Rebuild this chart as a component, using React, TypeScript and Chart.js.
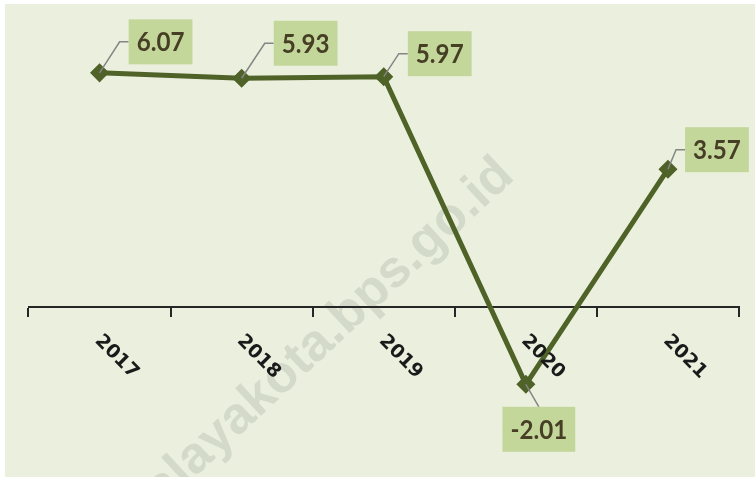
import React, { useEffect, useRef } from 'react';
import { Chart, registerables } from 'chart.js';

Chart.register(...registerables);

const categories = ['2017', '2018', '2019', '2020', '2021'];
const values = [6.07, 5.93, 5.97, -2.01, 3.57];
const valueLabels = ['6.07', '5.93', '5.97', '-2.01', '3.57'];
const yMin = -4;
const yMax = 7;
const watermark = 'tasikmalayakota.bps.go.id';

// label box centre offsets from each point (layout, not data)
const labelOffsets: number[][] = [
  [61, -31],
  [64, -35],
  [56, -23],
  [13, 45],
  [49, -19.5],
];

const decorPlugin = {
  id: 'decor',
  beforeDraw(chart: any) {
    const ctx = chart.ctx as CanvasRenderingContext2D;
    ctx.save();
    ctx.fillStyle = '#ffffff';
    ctx.fillRect(0, 0, chart.width, chart.height);
    ctx.fillStyle = '#EBF0DE';
    ctx.fillRect(5, 4, chart.width - 5, chart.height - 6);
    ctx.beginPath();
    ctx.rect(5, 4, chart.width - 5, chart.height - 6);
    ctx.clip();
    ctx.translate(516, 178);
    ctx.rotate((-43 * Math.PI) / 180);
    ctx.font = 'bold 52px "Liberation Sans", Arial, sans-serif';
    ctx.fillStyle = '#D3DAC9';
    ctx.textAlign = 'right';
    ctx.textBaseline = 'alphabetic';
    ctx.fillText(watermark, 0, 0);
    ctx.restore();
  },
  afterDatasetsDraw(chart: any) {
    const ctx = chart.ctx as CanvasRenderingContext2D;
    const xs = chart.scales.x;
    const ys = chart.scales.y;
    const zeroY = ys.getPixelForValue(0);
    ctx.save();
    // category labels, rotated 45deg clockwise
    ctx.font = 'bold 19px "DejaVu Sans", sans-serif';
    ctx.fillStyle = '#1a1a1a';
    ctx.textAlign = 'center';
    ctx.textBaseline = 'middle';
    categories.forEach((c, i) => {
      const x = xs.getPixelForValue(i);
      ctx.save();
      ctx.translate(x + 17, zeroY + 50);
      ctx.rotate(Math.PI / 4);
      ctx.fillText(c, 0, 0);
      ctx.restore();
    });
    // data labels with leader lines
    const meta = chart.getDatasetMeta(0);
    ctx.font = 'bold 26px Lato, "Open Sans", sans-serif';
    meta.data.forEach((pt: any, i: number) => {
      const txt = valueLabels[i];
      const px = pt.x;
      const py = pt.y;
      const tw = ctx.measureText(txt).width * 0.93;
      const bw = tw + 16;
      const bh = 45;
      const cx = px + labelOffsets[i][0];
      const cy = py + labelOffsets[i][1];
      const left = cx - bw / 2;
      const top = cy - bh / 2;
      ctx.strokeStyle = '#858585';
      ctx.lineWidth = 1.5;
      ctx.beginPath();
      ctx.moveTo(px, py);
      if (cy < py) {
        ctx.lineTo(left - 9, cy);
        ctx.lineTo(left, cy);
      } else {
        ctx.lineTo(cx, top);
      }
      ctx.stroke();
      ctx.fillStyle = '#C4D79B';
      ctx.fillRect(left, top, bw, bh);
      ctx.fillStyle = '#463F26';
      ctx.textAlign = 'center';
      ctx.textBaseline = 'middle';
      ctx.save();
      ctx.translate(cx, cy + 1);
      ctx.scale(0.93, 1);
      ctx.fillText(txt, 0, 0);
      ctx.restore();
    });
    ctx.restore();
  },
};

export default function App() {
  const canvasRef = useRef<HTMLCanvasElement | null>(null);

  useEffect(() => {
    if (!canvasRef.current) return;
    const chart = new Chart(canvasRef.current, {
      type: 'line',
      data: {
        labels: categories,
        datasets: [
          {
            data: values,
            borderColor: '#4F6228',
            backgroundColor: '#4F6228',
            borderWidth: 5,
            pointStyle: 'rectRot',
            pointRadius: 8.5,
            pointBorderWidth: 1.5,
            pointBackgroundColor: '#4F6228',
            pointBorderColor: '#4F6228',
            tension: 0,
            clip: false as any,
          },
        ],
      },
      options: {
        responsive: false,
        animation: false,
        layout: { padding: { left: 28.5, right: 16, top: 37, bottom: 18 } },
        plugins: { legend: { display: false }, tooltip: { enabled: false } },
        scales: {
          x: {
            type: 'category',
            offset: true,
            position: { y: 0 } as any,
            grid: {
              offset: true,
              drawOnChartArea: false,
              drawTicks: true,
              tickLength: 9,
              color: '#262626',
              lineWidth: 2,
            },
            border: { display: true, color: '#262626', width: 2 },
            ticks: { display: false },
          },
          y: { display: false, min: yMin, max: yMax },
        },
      },
      plugins: [decorPlugin],
    });
    return () => chart.destroy();
  }, []);

  return (
    <div style={{ position: 'absolute', left: 0, top: 0, width: 755, height: 479 }}>
      <canvas ref={canvasRef} width={755} height={479} style={{ display: 'block' }} />
    </div>
  );
}
